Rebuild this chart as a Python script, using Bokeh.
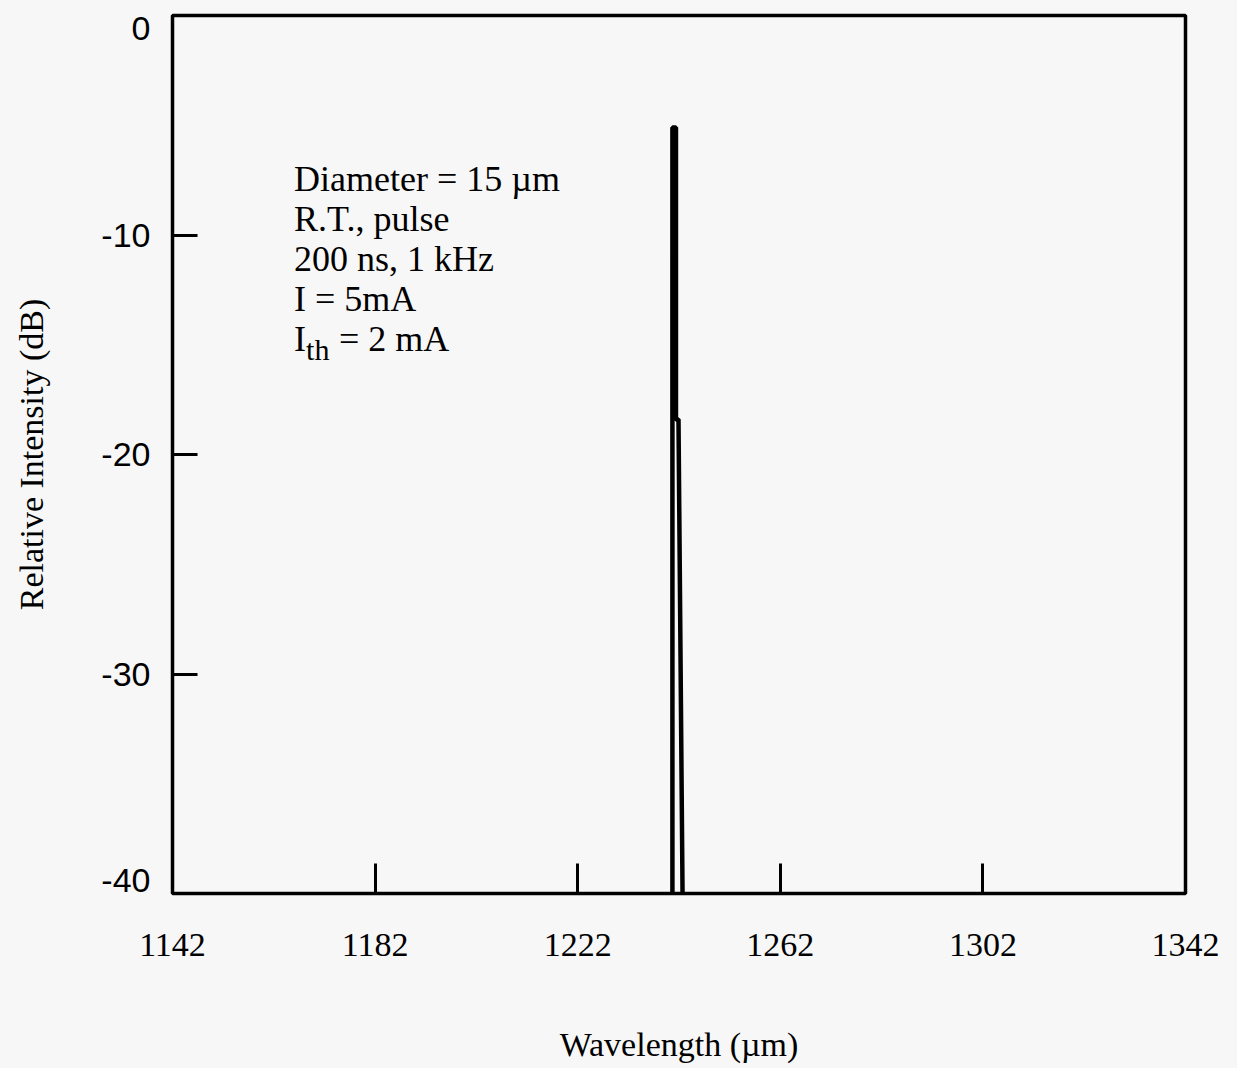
from bokeh.plotting import figure
from bokeh.models import Range1d, FixedTicker, LinearAxis
from bokeh.models import Label
from bokeh.embed import file_html
from bokeh.resources import INLINE

# ---- data ----
wavelength = [1240.7, 1240.7, 1241.4, 1241.4, 1241.9, 1242.7]
intensity_db = [-40.0, -5.1, -5.1, -18.4, -18.4, -40.0]

x_ticks = [1142, 1182, 1222, 1262, 1302, 1342]
y_ticks = [-40, -30, -20, -10, 0]
y_tick_text = ["-40", "-30", "-20", "-10", "0"]

note_lines = ["Diameter = 15 \u00b5m", "R.T., pulse", "200 ns, 1 kHz", "I = 5mA"]
note_last = ["I", "th", "= 2 mA"]

SERIF = "Liberation Serif"
SANS = "Liberation Sans"
BG = "#f7f7f7"

W, H = 1221, 1066
B_LEFT, B_RIGHT, B_TOP, B_BOTTOM = 172, 36, 15, 173

p = figure(width=W, height=H, output_backend="svg", toolbar_location=None,
           x_range=Range1d(1142, 1342), y_range=Range1d(-40, 0),
           min_border_left=B_LEFT, min_border_right=B_RIGHT,
           min_border_top=B_TOP, min_border_bottom=B_BOTTOM)

p.background_fill_color = BG
p.border_fill_color = BG
p.outline_line_color = "black"
p.outline_line_width = 3.5
p.xgrid.visible = False
p.ygrid.visible = False

p.line(wavelength, intensity_db, line_color="black", line_width=4.5)

# x axis
xa = p.xaxis[0]
xa.ticker = FixedTicker(ticks=x_ticks)
xa.axis_line_color = None
xa.major_tick_in = 30
xa.major_tick_out = 0
xa.major_tick_line_width = 3
xa.major_tick_line_color = "black"
xa.minor_tick_line_color = None
xa.major_label_text_font = SERIF
xa.major_label_text_font_size = "34px"
xa.major_label_text_color = "black"
xa.major_label_standoff = 40
xa.axis_label = "Wavelength (\u00b5m)"
xa.axis_label_text_font = SERIF
xa.axis_label_text_font_size = "34px"
xa.axis_label_text_font_style = "normal"
xa.axis_label_text_color = "black"
xa.axis_label_standoff = 67

# inner y axis: tick marks only
ya = p.yaxis[0]
ya.ticker = FixedTicker(ticks=y_ticks)
ya.axis_line_color = None
ya.major_tick_in = 25
ya.major_tick_out = 0
ya.major_tick_line_width = 3
ya.major_tick_line_color = "black"
ya.minor_tick_line_color = None
ya.major_label_overrides = {v: "" for v in y_ticks}
ya.major_label_standoff = 0
ya.major_label_text_font_size = "1px"

# outer y axis: labels only; end labels (0, -40) sit a little inside the span as in the original
px_per_db = (H - B_TOP - B_BOTTOM) / (y_ticks[-1] - y_ticks[0])
nudge = 13 / px_per_db
label_pos = [v + (nudge if v == y_ticks[0] else (-nudge if v == y_ticks[-1] else 0)) for v in y_ticks]
yl = LinearAxis(ticker=FixedTicker(ticks=label_pos),
                major_label_overrides={pos: t for pos, t in zip(label_pos, y_tick_text)})
yl.axis_line_color = None
yl.major_tick_line_color = None
yl.minor_tick_line_color = None
yl.major_tick_in = 0
yl.major_tick_out = 0
yl.major_label_text_font = SANS
yl.major_label_text_font_size = "34px"
yl.major_label_text_color = "black"
yl.major_label_standoff = 22
yl.axis_label = "Relative Intensity (dB)"
yl.axis_label_text_font = SERIF
yl.axis_label_text_font_size = "34px"
yl.axis_label_text_font_style = "normal"
yl.axis_label_text_color = "black"
yl.axis_label_standoff = 48
p.add_layout(yl, "left")

# annotation block (anchor in data units, lines offset in pixels)
anchor_x, anchor_y = 1166.0, -7.47
for i, t in enumerate(note_lines):
    p.add_layout(Label(x=anchor_x, y=anchor_y, y_offset=-40 * i, text=t,
                       text_font=SERIF, text_font_size="36px", text_color="black",
                       text_align="left", text_baseline="alphabetic"))
k = len(note_lines)
p.add_layout(Label(x=anchor_x, y=anchor_y, y_offset=-40 * k, text=note_last[0],
                   text_font=SERIF, text_font_size="36px", text_color="black",
                   text_align="left", text_baseline="alphabetic"))
p.add_layout(Label(x=anchor_x, y=anchor_y, x_offset=12, y_offset=-40 * k - 10, text=note_last[1],
                   text_font=SERIF, text_font_size="30px", text_color="black",
                   text_align="left", text_baseline="alphabetic"))
p.add_layout(Label(x=anchor_x, y=anchor_y, x_offset=45, y_offset=-40 * k, text=note_last[2],
                   text_font=SERIF, text_font_size="36px", text_color="black",
                   text_align="left", text_baseline="alphabetic"))

html = file_html(p, INLINE)
html = html.replace("</head>", "<style>html, body { background-color: #f7f7f7; }</style></head>", 1)
open("out.html", "w").write(html)
